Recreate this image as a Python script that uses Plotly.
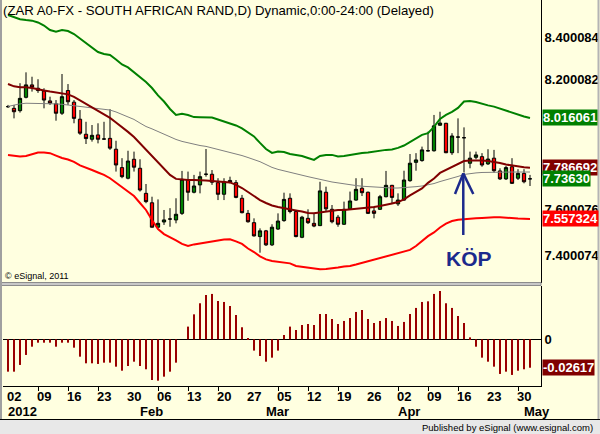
import math
import plotly.graph_objects as go

# ---------------- data ----------------
day_labels = ['02', '09', '16', '23', '30', '06', '13', '20', '27', '05',
              '12', '19', '26', '02', '09', '16', '23', '30']
day_label_bars = [1 + 5 * k for k in range(18)]
month_labels = ['2012', 'Feb', 'Mar', 'Apr', 'May']
month_first_bars = [1, 23, 44, 66, 87]

opens = [
    8.069, 8.061, 8.050, 8.113, 8.172, 8.156, 8.143, 8.096, 8.082, 8.038,
    8.145, 8.090, 8.010, 7.940, 7.917, 7.937, 7.918, 7.921, 7.871, 7.787,
    7.739, 7.825, 7.784, 7.671, 7.629, 7.521, 7.544, 7.557, 7.553, 7.582,
    7.731, 7.676, 7.709, 7.757, 7.757, 7.719, 7.667, 7.729, 7.719, 7.649,
    7.582, 7.541, 7.480, 7.505, 7.444, 7.513, 7.550, 7.649, 7.590, 7.477,
    7.560, 7.538, 7.528, 7.676, 7.600, 7.565, 7.534, 7.602, 7.641, 7.694,
    7.676, 7.593, 7.600, 7.656, 7.707, 7.624, 7.641, 7.728, 7.811, 7.819,
    7.864, 7.864, 7.982, 7.991, 7.855, 7.927, 7.924, 7.807, 7.834, 7.837,
    7.804, 7.830, 7.772, 7.736, 7.791, 7.739, 7.761, 7.7363]
highs = [
    8.077, 8.077, 8.180, 8.232, 8.211, 8.199, 8.156, 8.116, 8.100, 8.224,
    8.176, 8.100, 8.053, 7.998, 7.983, 7.991, 7.998, 8.057, 7.910, 7.830,
    7.864, 7.860, 7.825, 7.713, 7.656, 7.644, 7.597, 7.605, 7.649, 7.772,
    7.769, 7.754, 7.769, 7.872, 7.776, 7.739, 7.739, 7.746, 7.731, 7.664,
    7.597, 7.560, 7.516, 7.509, 7.534, 7.582, 7.674, 7.671, 7.597, 7.571,
    7.600, 7.582, 7.723, 7.701, 7.619, 7.575, 7.634, 7.679, 7.739, 7.739,
    7.679, 7.612, 7.664, 7.772, 7.709, 7.671, 7.773, 7.849, 7.853, 7.883,
    7.952, 8.030, 8.045, 7.993, 7.945, 8.014, 7.972, 7.860, 7.860, 7.853,
    7.871, 7.868, 7.784, 7.795, 7.830, 7.780, 7.780, 7.754]
lows = [
    8.063, 8.014, 8.041, 8.108, 8.140, 8.134, 8.061, 8.077, 8.003, 8.030,
    8.077, 7.991, 7.937, 7.895, 7.906, 7.898, 7.917, 7.868, 7.769, 7.739,
    7.734, 7.769, 7.679, 7.627, 7.519, 7.516, 7.531, 7.523, 7.538, 7.575,
    7.638, 7.671, 7.671, 7.746, 7.709, 7.641, 7.641, 7.716, 7.649, 7.582,
    7.541, 7.480, 7.410, 7.439, 7.439, 7.509, 7.545, 7.582, 7.477, 7.473,
    7.535, 7.521, 7.526, 7.590, 7.538, 7.523, 7.531, 7.597, 7.638, 7.659,
    7.579, 7.560, 7.597, 7.653, 7.627, 7.615, 7.638, 7.723, 7.773, 7.814,
    7.860, 7.860, 7.979, 7.853, 7.845, 7.853, 7.765, 7.784, 7.825, 7.791,
    7.799, 7.764, 7.731, 7.731, 7.713, 7.731, 7.716, 7.704]
closes = [
    8.069, 8.045, 8.108, 8.172, 8.161, 8.145, 8.100, 8.085, 8.038, 8.116,
    8.092, 8.014, 7.945, 7.920, 7.935, 7.917, 7.918, 7.876, 7.799, 7.746,
    7.817, 7.789, 7.686, 7.634, 7.521, 7.538, 7.553, 7.557, 7.578, 7.734,
    7.676, 7.704, 7.746, 7.757, 7.721, 7.667, 7.723, 7.722, 7.653, 7.585,
    7.545, 7.483, 7.505, 7.444, 7.521, 7.548, 7.644, 7.590, 7.480, 7.565,
    7.541, 7.526, 7.682, 7.602, 7.545, 7.534, 7.600, 7.637, 7.689, 7.674,
    7.582, 7.582, 7.656, 7.707, 7.653, 7.641, 7.731, 7.807, 7.822, 7.868,
    7.864, 7.979, 7.992, 7.855, 7.932, 7.927, 7.924, 7.830, 7.845, 7.799,
    7.826, 7.773, 7.736, 7.787, 7.716, 7.761, 7.723, 7.7363]

upper_band = [
    8.512, 8.500, 8.491, 8.487, 8.484, 8.475, 8.460, 8.438, 8.430, 8.438,
    8.433, 8.418, 8.396, 8.377, 8.355, 8.330, 8.321, 8.316, 8.294, 8.270,
    8.256, 8.234, 8.211, 8.186, 8.157, 8.122, 8.093, 8.058, 8.030, 8.035,
    8.030, 8.020, 8.019, 8.019, 8.018, 8.009, 7.999, 7.991, 7.981, 7.967,
    7.948, 7.930, 7.900, 7.872, 7.854, 7.860, 7.858, 7.849, 7.845, 7.840,
    7.831, 7.822, 7.840, 7.845, 7.845, 7.838, 7.840, 7.845, 7.849, 7.854,
    7.856, 7.861, 7.864, 7.868, 7.870, 7.877, 7.888, 7.904, 7.923, 7.937,
    7.945, 7.974, 8.011, 8.030, 8.044, 8.063, 8.093, 8.096, 8.091, 8.082,
    8.075, 8.069, 8.060, 8.051, 8.039, 8.031, 8.023, 8.016061]
lower_band = [
    7.845, 7.840, 7.838, 7.840, 7.847, 7.856, 7.856, 7.853, 7.842, 7.831,
    7.824, 7.813, 7.797, 7.785, 7.776, 7.765, 7.754, 7.739, 7.718, 7.697,
    7.680, 7.659, 7.628, 7.597, 7.553, 7.513, 7.491, 7.478, 7.463, 7.448,
    7.439, 7.446, 7.451, 7.454, 7.458, 7.463, 7.467, 7.468, 7.459, 7.448,
    7.428, 7.413, 7.394, 7.381, 7.374, 7.370, 7.368, 7.364, 7.353, 7.349,
    7.344, 7.340, 7.339, 7.340, 7.342, 7.346, 7.351, 7.353, 7.359, 7.366,
    7.374, 7.383, 7.389, 7.396, 7.402, 7.409, 7.418, 7.422, 7.439, 7.461,
    7.482, 7.498, 7.520, 7.537, 7.548, 7.554, 7.555, 7.557, 7.560, 7.562,
    7.565, 7.565, 7.565, 7.562, 7.559, 7.559, 7.558, 7.557324]
ma_fast = [
    8.176, 8.165, 8.161, 8.161, 8.157, 8.150, 8.145, 8.140, 8.135, 8.131,
    8.127, 8.115, 8.100, 8.082, 8.065, 8.049, 8.035, 8.016, 7.995, 7.974,
    7.951, 7.927, 7.898, 7.868, 7.840, 7.813, 7.785, 7.754, 7.736, 7.733,
    7.731, 7.731, 7.731, 7.729, 7.727, 7.724, 7.723, 7.720, 7.709, 7.695,
    7.677, 7.659, 7.641, 7.628, 7.617, 7.610, 7.606, 7.602, 7.595, 7.590,
    7.584, 7.582, 7.586, 7.590, 7.595, 7.597, 7.597, 7.599, 7.602, 7.605,
    7.606, 7.610, 7.615, 7.619, 7.626, 7.632, 7.644, 7.662, 7.677, 7.693,
    7.718, 7.738, 7.763, 7.776, 7.788, 7.804, 7.817, 7.819, 7.820, 7.819,
    7.817, 7.813, 7.808, 7.801, 7.796, 7.793, 7.789, 7.786692]
ma_slow = [
    8.070, 8.077, 8.082, 8.085, 8.085, 8.085, 8.085, 8.085, 8.082, 8.080,
    8.077, 8.074, 8.071, 8.067, 8.065, 8.060, 8.057, 8.053, 8.044, 8.032,
    8.020, 8.009, 7.992, 7.976, 7.965, 7.953, 7.941, 7.927, 7.916, 7.907,
    7.900, 7.893, 7.888, 7.884, 7.877, 7.871, 7.865, 7.858, 7.849, 7.842,
    7.833, 7.824, 7.814, 7.801, 7.788, 7.779, 7.772, 7.764, 7.758, 7.752,
    7.746, 7.740, 7.733, 7.727, 7.722, 7.718, 7.713, 7.709, 7.706, 7.703,
    7.701, 7.700, 7.698, 7.697, 7.695, 7.695, 7.696, 7.698, 7.701, 7.704,
    7.709, 7.715, 7.724, 7.731, 7.738, 7.747, 7.756, 7.761, 7.763, 7.765,
    7.766, 7.767, 7.767, 7.767, 7.767, 7.767, 7.767, 7.767]
oscillator = [
    -0.0298, -0.0298, -0.0236, -0.0144, -0.0068, -0.0031, -0.0031, -0.0031, -0.0068, -0.0031,
    -0.0031, -0.0077, -0.0160, -0.0221, -0.0221, -0.0227, -0.0215, -0.0215, -0.0252, -0.0289,
    -0.0246, -0.0206, -0.0246, -0.0276, -0.0375, -0.0381, -0.0344, -0.0298, -0.0215, 0.0000,
    0.0117, 0.0230, 0.0332, 0.0408, 0.0418, 0.0353, 0.0344, 0.0307, 0.0224, 0.0111,
    0.0012, -0.0104, -0.0154, -0.0206, -0.0169, -0.0104, 0.0040, 0.0117, 0.0086, 0.0132,
    0.0141, 0.0132, 0.0233, 0.0233, 0.0187, 0.0141, 0.0169, 0.0196, 0.0252, 0.0270,
    0.0187, 0.0150, 0.0169, 0.0196, 0.0169, 0.0123, 0.0160, 0.0233, 0.0289, 0.0344,
    0.0350, 0.0418, 0.0445, 0.0332, 0.0289, 0.0215, 0.0150, 0.0018, -0.0068, -0.0169,
    -0.0206, -0.0252, -0.0319, -0.0298, -0.0328, -0.0289, -0.0276, -0.02617]

price_ticks = [8.400084, 8.200082, 7.600076, 7.400074]
buy_bar = 76          # Apr 16 signal
buy_text = 'KÖP'

# ---------------- layout helpers ----------------
W, H = 600, 434
PL, PR, PT, PB = 3, 541, 0, 386
BG = '#FFFFE0'
FONT = 'Arial, Liberation Sans, sans-serif'
NAVY = '#1c2a8c'


def pxx(x):
    return (x - PL) / (PR - PL)


def pxy(y):
    return (PB - y) / (PB - PT)


n = len(closes)
idx = list(range(n))

fig = go.Figure()

# indicator lines
fig.add_trace(go.Scatter(x=idx, y=ma_slow, mode='lines', line=dict(color='#808080', width=1),
                         hoverinfo='skip', showlegend=False))
fig.add_trace(go.Scatter(x=idx, y=upper_band, mode='lines', line=dict(color='#008000', width=2),
                         hoverinfo='skip', showlegend=False))
fig.add_trace(go.Scatter(x=idx, y=lower_band, mode='lines', line=dict(color='#FF0000', width=2),
                         hoverinfo='skip', showlegend=False))
fig.add_trace(go.Scatter(x=idx, y=ma_fast, mode='lines', line=dict(color='#800000', width=2),
                         hoverinfo='skip', showlegend=False))

# candles split by direction
groups = [
    ([i for i in idx if closes[i] > opens[i]], '#008000'),
    ([i for i in idx if closes[i] < opens[i]], '#FF0000'),
    ([i for i in idx if closes[i] == opens[i]], '#000000'),
]
for sel, col in groups:
    style = dict(line=dict(color='black', width=1), fillcolor=col)
    fig.add_trace(go.Candlestick(
        x=sel,
        open=[opens[i] for i in sel], high=[highs[i] for i in sel],
        low=[lows[i] for i in sel], close=[closes[i] for i in sel],
        increasing=style, decreasing=style, whiskerwidth=0,
        hoverinfo='skip', showlegend=False, xaxis='x', yaxis='y'))

# oscillator histogram
fig.add_trace(go.Bar(x=idx, y=oscillator, width=0.34, marker=dict(color='#990000', line=dict(width=0)),
                     xaxis='x', yaxis='y2', hoverinfo='skip', showlegend=False))

lo_p, hi_p = 7.2802, 8.5868
hist_lo, hist_hi = -0.0430, 0.0491

fig.update_layout(
    width=W, height=H,
    margin=dict(l=PL, r=W - PR, t=PT, b=H - PB),
    paper_bgcolor=BG, plot_bgcolor=BG,
    font=dict(family=FONT, color='black'),
    boxgap=0.22,
    xaxis=dict(range=[-5 / 6, n + 5 / 6], anchor='y2', showgrid=False, zeroline=False,
               showline=True, linecolor='black', linewidth=1,
               showticklabels=False, ticks='',
               minor=dict(tickmode='linear', tick0=0, dtick=5, ticks='outside', ticklen=4,
                          tickcolor='black', showgrid=False),
               rangeslider=dict(visible=False), fixedrange=True),
    yaxis=dict(domain=[pxy(283), 1], type='log', range=[math.log10(lo_p), math.log10(hi_p)],
               side='right', anchor='x', showgrid=False, zeroline=False,
               showline=True, linecolor='black', linewidth=1, ticks='',
               tickmode='array', tickvals=price_ticks,
               ticktext=['<b>%.6f</b>' % v for v in price_ticks],
               tickfont=dict(size=13, family=FONT, color='black'), fixedrange=True),
    yaxis2=dict(domain=[0, pxy(286)], range=[hist_lo, hist_hi], side='right', anchor='x',
                showgrid=False, zeroline=True, zerolinecolor='black', zerolinewidth=1,
                showline=True, linecolor='black', linewidth=1, ticks='',
                tickmode='array', tickvals=[0], ticktext=['<b>0</b>'],
                tickfont=dict(size=13, family=FONT, color='black'), fixedrange=True),
)

ann = []
ann.append(dict(text='(ZAR A0-FX - SOUTH AFRICAN RAND,D) Dynamic,0:00-24:00 (Delayed)',
                xref='paper', yref='paper', x=pxx(1), y=pxy(1), xanchor='left', yanchor='top',
                showarrow=False, font=dict(size=13.2, family=FONT, color='black')))
ann.append(dict(text='© eSignal, 2011', xref='paper', yref='paper', x=pxx(3), y=pxy(276),
                xanchor='left', yanchor='middle', showarrow=False,
                font=dict(size=9, family=FONT, color='black')))
ann.append(dict(text='<b>%s</b>' % buy_text, xref='x', yref='y', x=buy_bar + 0.8,
                y=math.log10(7.387), xanchor='center', yanchor='middle', showarrow=False,
                font=dict(size=21, family=FONT, color=NAVY)))
for b, lab in zip(day_label_bars, day_labels):
    ann.append(dict(text='<b>%s</b>' % lab, xref='x', yref='paper', x=b, y=pxy(396),
                    xanchor='center', yanchor='middle', showarrow=False,
                    font=dict(size=13, family=FONT, color='black')))
for mi, lab in zip(month_first_bars, month_labels):
    ann.append(dict(text='<b>%s</b>' % lab, xref='x', yref='paper', x=mi - 1, y=pxy(411.5),
                    xanchor='left', yanchor='middle', xshift=-2, showarrow=False,
                    font=dict(size=13, family=FONT, color='black')))

# last-value boxes
boxes = [
    ('%.6f' % upper_band[-1], math.log10(upper_band[-1]), 'y', '#008000'),
    ('%.6f' % ma_fast[-1], math.log10(ma_fast[-1]), 'y', '#800000'),
    ('%.5f' % closes[-1], math.log10(closes[-1]), 'y', '#008000'),
    ('%.6f' % lower_band[-1], math.log10(lower_band[-1]), 'y', '#FF0000'),
    ('%.5f' % oscillator[-1], oscillator[-1], 'y2', '#800000'),
]
for txt, yv, yr, col in boxes:
    ann.append(dict(text='<b>%s</b>' % txt, xref='paper', yref=yr, x=1, y=yv,
                    xanchor='left', yanchor='middle', xshift=1, showarrow=False,
                    bgcolor=col, borderpad=0,
                    font=dict(size=13, family=FONT, color='white')))

ann.append(dict(text='Published by eSignal (www.esignal.com)', xref='paper', yref='paper',
                x=pxx(595), y=pxy(427), xanchor='right', yanchor='middle', showarrow=False,
                font=dict(size=9.5, family=FONT, color='black')))

shapes = []
# arrow for the buy signal (shape coordinates on a log axis are given as data values)
tip_p = 7.761
foot_p = 7.487
arm_p = 7.668
ax_x = buy_bar - 0.12
shapes.append(dict(type='line', xref='x', yref='y', x0=ax_x, x1=ax_x,
                   y0=foot_p, y1=tip_p, line=dict(color=NAVY, width=2.5)))
shapes.append(dict(type='line', xref='x', yref='y', x0=ax_x, x1=buy_bar - 1.5,
                   y0=tip_p, y1=arm_p, line=dict(color=NAVY, width=2.5)))
shapes.append(dict(type='line', xref='x', yref='y', x0=ax_x, x1=buy_bar + 1.55,
                   y0=tip_p, y1=arm_p, line=dict(color=NAVY, width=2.5)))
# panel splitter
shapes.append(dict(type='rect', xref='paper', yref='paper', x0=pxx(0), x1=1,
                   y0=pxy(285.5), y1=pxy(282.5), fillcolor='#C8C8C8',
                   line=dict(color='#8C8C8C', width=1)))
# window borders
shapes.append(dict(type='line', xref='paper', yref='paper', x0=pxx(1), x1=pxx(1),
                   y0=pxy(0), y1=pxy(419), line=dict(color='#A0A0A0', width=2)))
shapes.append(dict(type='line', xref='paper', yref='paper', x0=pxx(598.5), x1=pxx(598.5),
                   y0=pxy(0), y1=pxy(419), line=dict(color='#B4B4B4', width=2)))
shapes.append(dict(type='rect', xref='paper', yref='paper', x0=pxx(0), x1=pxx(600),
                   y0=pxy(434), y1=pxy(420), fillcolor='#E8E8E8', line=dict(width=0)))
shapes.append(dict(type='line', xref='paper', yref='paper', x0=pxx(0), x1=pxx(600),
                   y0=pxy(419.5), y1=pxy(419.5), line=dict(color='black', width=1)))

fig.update_layout(annotations=ann, shapes=shapes)

fig.write_html('out.html', config={'displayModeBar': False})
